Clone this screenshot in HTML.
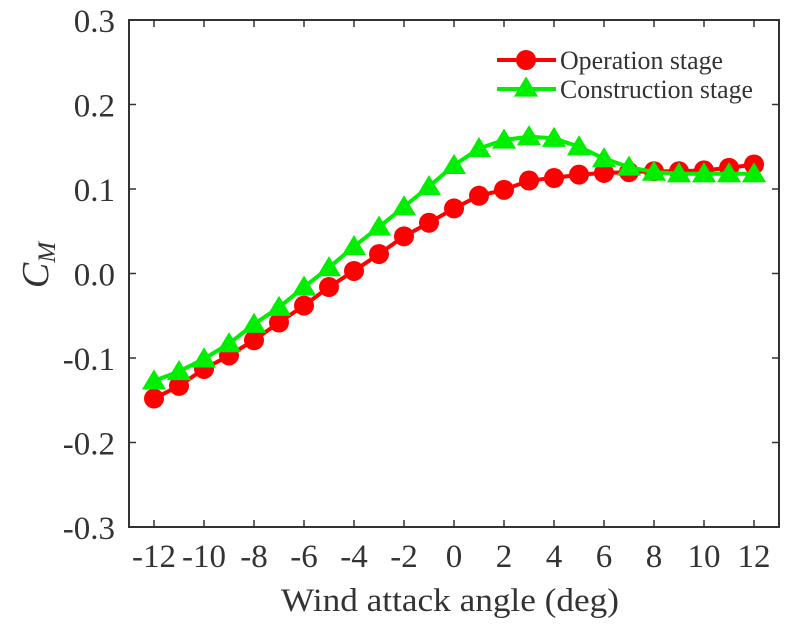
<!DOCTYPE html>
<html><head><meta charset="utf-8"><style>
body{margin:0;background:#fff}
svg text{font-family:"Liberation Serif",serif;fill:#333}
</style></head><body>
<svg id="chart" width="798" height="623" xmlns="http://www.w3.org/2000/svg"></svg>
<script>
const angles=[-12,-11,-10,-9,-8,-7,-6,-5,-4,-3,-2,-1,0,1,2,3,4,5,6,7,8,9,10,11,12];
const operation=[-0.148,-0.133,-0.113,-0.097,-0.079,-0.058,-0.038,-0.016,0.003,0.023,0.044,0.060,0.077,0.092,0.099,0.110,0.113,0.117,0.119,0.120,0.121,0.121,0.122,0.125,0.129];
const construction=[-0.127,-0.116,-0.101,-0.083,-0.060,-0.040,-0.016,0.007,0.032,0.055,0.079,0.103,0.128,0.148,0.158,0.162,0.160,0.150,0.136,0.126,0.120,0.118,0.118,0.118,0.118];
const xTicks=[-12,-10,-8,-6,-4,-2,0,2,4,6,8,10,12];
const yTicks=[-0.3,-0.2,-0.1,0.0,0.1,0.2,0.3];
const L=129,R=779,T=20,B=527;
const xs=v=>L+(v+13)/26*(R-L);
const ys=v=>B-(v+0.3)/0.6*(B-T);
const svg=document.getElementById('chart');
const NS='http://www.w3.org/2000/svg';
function mk(tag,attrs,parent){const e=document.createElementNS(NS,tag);for(const k in attrs)e.setAttribute(k,attrs[k]);(parent||svg).appendChild(e);return e;}
const frame=mk('rect',{x:L,y:T,width:R-L,height:B-T,fill:'none',stroke:'#333','stroke-width':2});


xTicks.forEach(t=>{const x=xs(t);
 mk('line',{x1:x,x2:x,y1:B,y2:B-7,stroke:'#333','stroke-width':1.5});
 mk('line',{x1:x,x2:x,y1:T,y2:T+7,stroke:'#333','stroke-width':1.5});
 const tx=mk('text',{x:x,y:567,'text-anchor':'middle','font-size':33});tx.textContent=String(t);
 
 
});
yTicks.forEach(t=>{const y=ys(t);
 mk('line',{x1:L,x2:L+7,y1:y,y2:y,stroke:'#333','stroke-width':1.5});
 mk('line',{x1:R,x2:R-7,y1:y,y2:y,stroke:'#333','stroke-width':1.5});
 const tx=mk('text',{x:115,y:y+12,'text-anchor':'end','font-size':33});tx.textContent=t.toFixed(1);
 
 
});
const xl=mk('text',{x:450,y:611,'text-anchor':'middle','font-size':33,textLength:338,lengthAdjust:'spacingAndGlyphs'});xl.textContent='Wind attack angle (deg)';


const yl=mk('text',{x:0,y:0,'text-anchor':'middle','font-size':38,transform:'translate(48,265) rotate(-90)'});
yl.innerHTML='<tspan font-style="italic">C</tspan><tspan font-style="italic" font-size="25" dy="7">M</tspan>';


function tri(x,y,s){return `${x},${y-s} ${x-s*1.05},${y+s*0.75} ${x+s*1.05},${y+s*0.75}`;}
function series(vals,color,kind,name){
 const g=mk('g',{});
 
 
 mk('polyline',{points:angles.map((a,i)=>xs(a)+','+ys(vals[i])).join(' '),fill:'none',stroke:color,'stroke-width':4},g);
 angles.forEach((a,i)=>{let m;
  if(kind==='circle')m=mk('circle',{cx:xs(a),cy:ys(vals[i]),r:10,fill:color},g);
  else m=mk('polygon',{points:tri(xs(a),ys(vals[i]),11.5),fill:color},g);
  
  
 });
}
series(operation,'#ff0000','circle','operation-series');
series(construction,'#00ee00','tri','construction-series');
const lg=mk('g',{});


mk('line',{x1:497,x2:556,y1:60,y2:60,stroke:'#ff0000','stroke-width':4},lg);
mk('circle',{cx:526,cy:60,r:10,fill:'#ff0000'},lg);
const t1=mk('text',{x:560,y:69,'font-size':26,textLength:163,lengthAdjust:'spacingAndGlyphs'},lg);t1.textContent='Operation stage';


mk('line',{x1:497,x2:556,y1:89,y2:89,stroke:'#00ee00','stroke-width':4},lg);
mk('polygon',{points:tri(526,88,11.5),fill:'#00ee00'},lg);
const t2=mk('text',{x:560,y:98,'font-size':26,textLength:193,lengthAdjust:'spacingAndGlyphs'},lg);t2.textContent='Construction stage';


</script>
</body></html>
